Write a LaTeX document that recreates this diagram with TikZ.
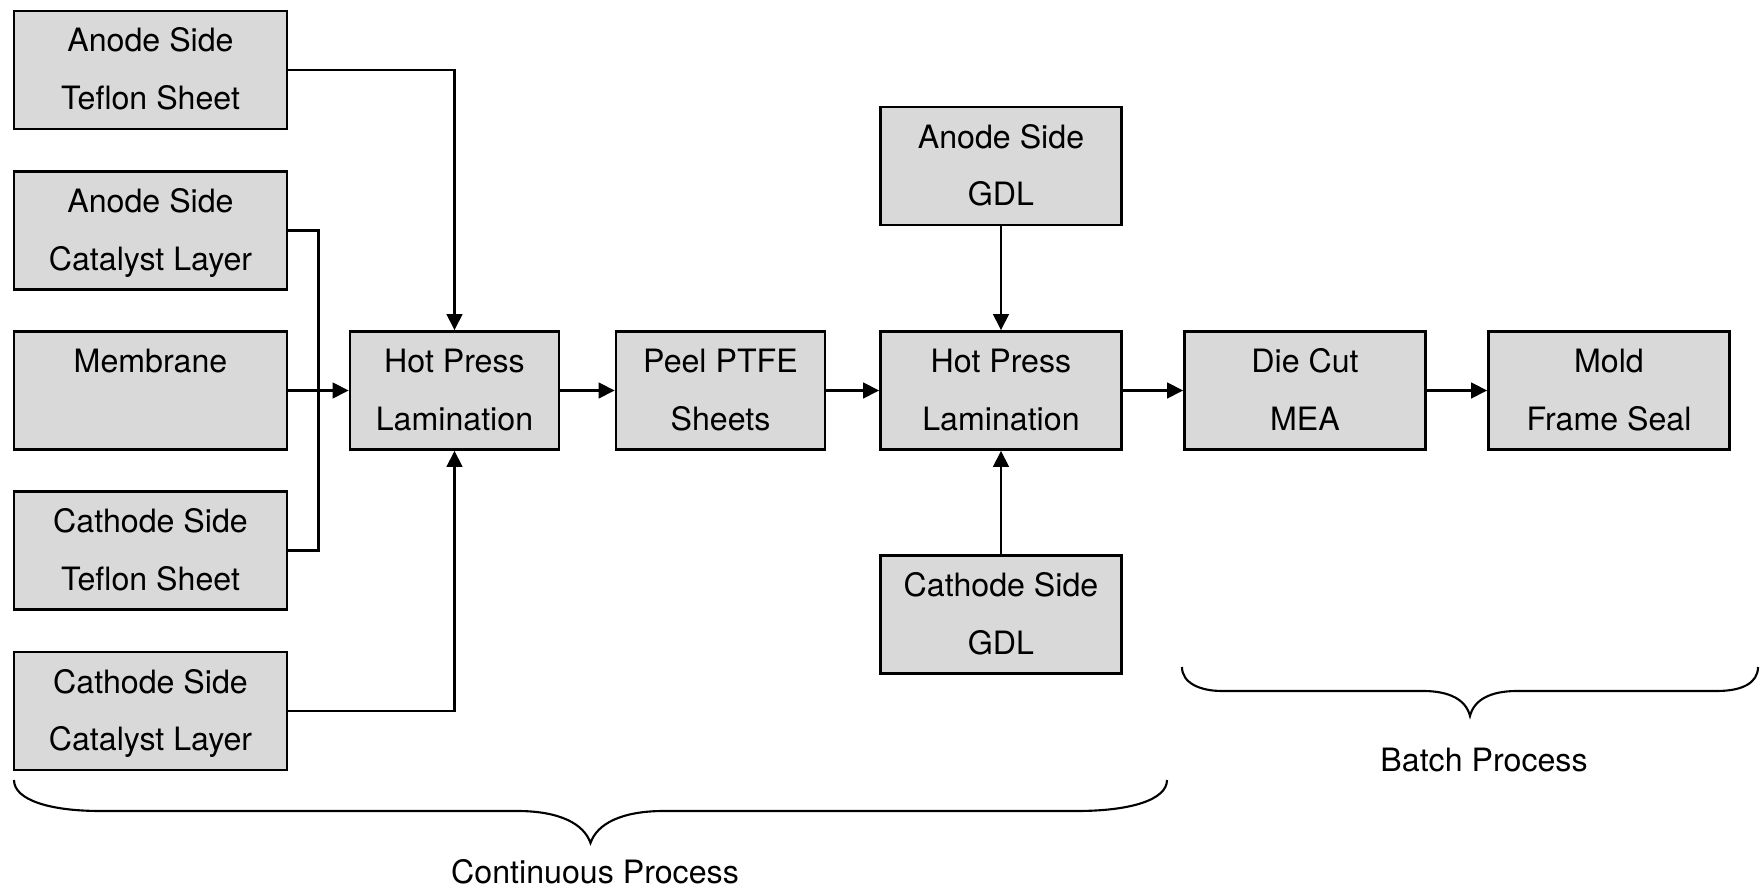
\documentclass[tikz,border=0pt]{standalone}
\usepackage{fontspec}
\setmainfont{TeX Gyre Heros}
\usetikzlibrary{arrows.meta}

\tikzset{
  stage/.style={draw=black, fill=black!15, line width=0.75pt,
    minimum height=1.18cm, inner sep=0pt, align=center,
    font=\fontsize{9.15pt}{16.5pt}\selectfont,
    text height=0.80cm, text depth=0pt},
  wide/.style={stage, minimum width=2.73cm},
  narrow/.style={stage, minimum width=2.09cm},
  mid/.style={stage, minimum width=2.41cm},
  link/.style={line width=0.75pt},
  flow/.style={link, -{Triangle[length=0.16cm, width=0.155cm]}},
  bracket/.style={line width=0.6pt},
  caption/.style={font=\fontsize{9.15pt}{11pt}\selectfont, inner sep=0pt}
}

\begin{document}
\begin{tikzpicture}
\useasboundingbox (0,0) rectangle (17.63,-8.90);

% input layers
\node[wide] (at) at (1.505,-0.700) {Anode Side\\Teflon Sheet};
\node[wide] (ac) at (1.505,-2.3025) {Anode Side\\Catalyst Layer};
\node[wide] (mem) at (1.505,-3.905) {Membrane\\\mbox{}};
\node[wide] (ct) at (1.505,-5.5075) {Cathode Side\\Teflon Sheet};
\node[wide] (cc) at (1.505,-7.110) {Cathode Side\\Catalyst Layer};

% process chain
\node[narrow] (hp1) at (4.545,-3.905) {Hot Press\\Lamination};
\node[narrow] (peel) at (7.205,-3.905) {Peel PTFE\\Sheets};
\node[mid] (hp2) at (10.01,-3.905) {Hot Press\\Lamination};
\node[mid] (agdl) at (10.01,-1.66) {Anode Side\\GDL};
\node[mid] (cgdl) at (10.01,-6.145) {Cathode Side\\GDL};
\node[mid] (die) at (13.05,-3.905) {Die Cut\\MEA};
\node[mid] (mold) at (16.09,-3.905) {Mold\\Frame Seal};

% connectors into the first press
\coordinate (bus) at (3.185,-3.905);
\draw[flow] (at.east) -| (hp1.north);
\draw[link] (ac.east) -| (bus) |- (ct.east);
\draw[flow] (mem.east) -- (hp1.west);
\draw[flow] (cc.east) -| (hp1.south);

% main line
\draw[flow] (hp1) -- (peel);
\draw[flow] (peel) -- (hp2);
\draw[flow] (hp2) -- (die);
\draw[flow] (die) -- (mold);
\draw[flow] (agdl) -- (hp2);
\draw[flow] (cgdl) -- (hp2);

% braces
\draw[bracket] (0.14,-7.80) .. controls (0.14,-8.00) and (0.50,-8.11) .. (1.00,-8.11)
  -- (5.17,-8.11) .. controls (5.60,-8.11) and (5.84,-8.24) .. (5.905,-8.43)
  .. controls (5.97,-8.24) and (6.21,-8.11) .. (6.64,-8.11)
  -- (10.77,-8.11) .. controls (11.30,-8.11) and (11.67,-8.00) .. (11.67,-7.80);
\draw[bracket] (11.82,-6.67) .. controls (11.82,-6.83) and (12.00,-6.91) .. (12.22,-6.91)
  -- (14.23,-6.91) .. controls (14.50,-6.91) and (14.66,-7.00) .. (14.70,-7.16)
  .. controls (14.74,-7.00) and (14.90,-6.91) .. (15.17,-6.91)
  -- (17.17,-6.91) .. controls (17.42,-6.91) and (17.58,-6.83) .. (17.58,-6.67);

\node[caption] (cont) at (5.95,-8.72) {Continuous Process};
\node[caption] (batch) at (14.84,-7.60) {Batch Process};
\end{tikzpicture}
\end{document}
